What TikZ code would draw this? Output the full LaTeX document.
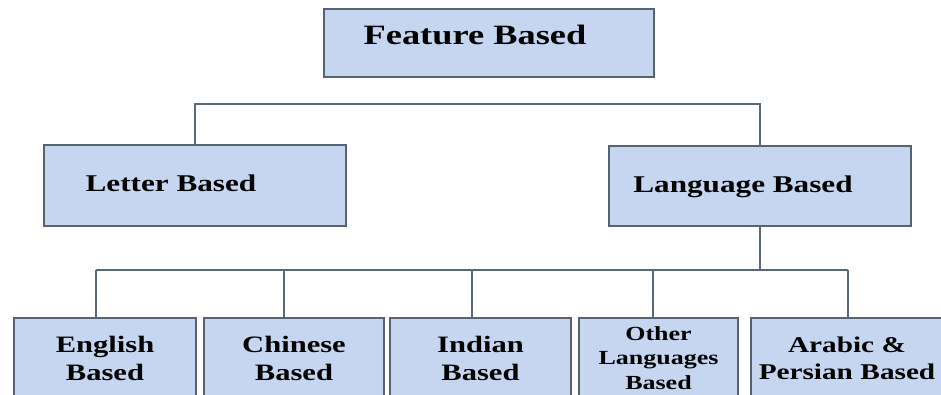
\documentclass[tikz,border=0pt]{standalone}
\usepackage{fontspec}
\setmainfont{Liberation Serif}[FakeStretch=1.3]
\definecolor{boxfill}{RGB}{198,214,240}
\definecolor{boxline}{RGB}{88,98,112}
\definecolor{wireline}{RGB}{92,104,118}
\tikzset{
  catbox/.style={draw=boxline, line width=2pt, fill=boxfill, inner sep=0pt},
  cattext/.style={font=\bfseries, text=black, inner sep=0pt},
  leafbox/.style={catbox, minimum height=80pt, align=center, font=\bfseries,
    anchor=north west},
  wire/.style={draw=wireline, line width=2.4pt}
}
\begin{document}
\begin{tikzpicture}[x=1pt, y=-1pt]
  \useasboundingbox (0,0) rectangle (941,394);
  \clip (0,0) rectangle (941,394);

  % top level
  \node[catbox, minimum width=330pt, minimum height=68pt, anchor=north west]
    (feature) at (323,8) {};
  \node[cattext, anchor=base, font=\fontsize{28}{30}\selectfont\bfseries]
    (featuretxt) at (475,44) {Feature Based};

  % second level
  \node[catbox, minimum width=302pt, minimum height=81pt, anchor=north west]
    (letter) at (43,144) {};
  \node[cattext, anchor=base, font=\fontsize{24}{26}\selectfont\bfseries]
    (lettertxt) at (171,191) {Letter Based};

  \node[catbox, minimum width=302pt, minimum height=80pt, anchor=north west]
    (language) at (608,145) {};
  \node[cattext, anchor=base, font=\fontsize{24}{26}\selectfont\bfseries]
    (languagetxt) at (743,192) {Language Based};

  % third level
  \node[leafbox, minimum width=182pt, font=\fontsize{23.5}{28}\selectfont\bfseries]
    (english) at (13,317) {English\\Based};
  \node[leafbox, minimum width=180pt, font=\fontsize{23.5}{28}\selectfont\bfseries]
    (chinese) at (203,317) {Chinese\\Based};
  \node[leafbox, minimum width=181pt, font=\fontsize{23.5}{28}\selectfont\bfseries]
    (indian) at (389,317) {Indian\\Based};
  \node[leafbox, minimum width=159pt, font=\fontsize{20}{24.5}\selectfont\bfseries]
    (other) at (578,317) {Other\\Languages\\Based};
  \node[leafbox, minimum width=210pt, text width=190pt,
        font=\fontsize{22.5}{27}\selectfont\bfseries]
    (arabic) at (750,317) {\hspace*{-18pt}Arabic \&\\\hspace*{-18pt}Persian Based};

  % connectors between levels
  \coordinate (upbus) at (194,104);
  \draw[wire] (letter.north) -- (letter.north |- upbus) -| (language.north);

  \coordinate (tapA) at (96,270);
  \coordinate (tapB) at (284,270);
  \coordinate (tapC) at (472,270);
  \coordinate (tapD) at (653,270);
  \coordinate (tapE) at (848,270);
  \draw[wire] (language.south) -- (language.south |- tapA);
  \draw[wire] (tapA) -- (tapE);
  \draw[wire] (tapA) -- (tapA |- english.north);
  \draw[wire] (tapB) -- (tapB |- chinese.north);
  \draw[wire] (tapC) -- (tapC |- indian.north);
  \draw[wire] (tapD) -- (tapD |- other.north);
  \draw[wire] (tapE) -- (tapE |- arabic.north);
\end{tikzpicture}
\end{document}
